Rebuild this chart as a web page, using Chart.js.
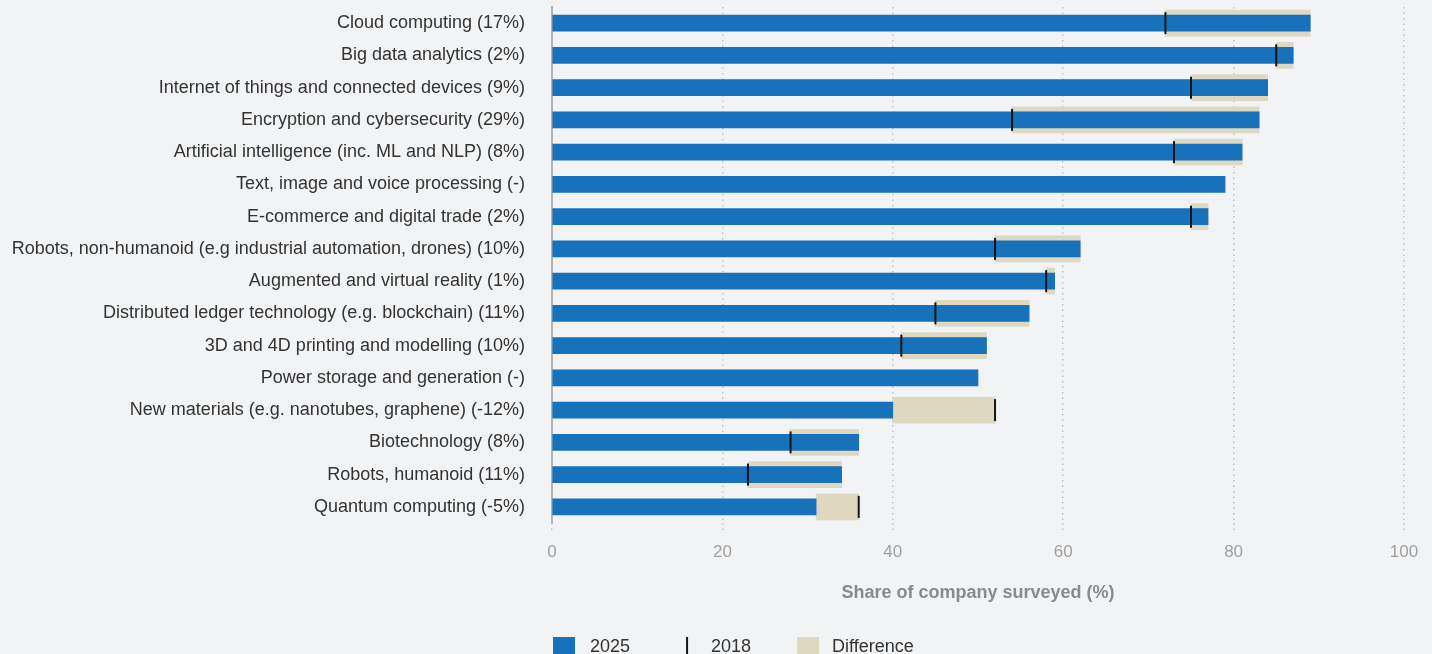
<!DOCTYPE html>
<html>
<head>
<meta charset="utf-8">
<title>Technology adoption by share of companies surveyed</title>
<script src="https://cdn.jsdelivr.net/npm/chart.js@4.4.1/dist/chart.umd.min.js"></script>
<style>
  html, body { margin: 0; padding: 0; background: #f2f3f5; overflow: hidden; }
  #wrap { width: 1432px; height: 666px; }
</style>
</head>
<body>
<div id="wrap"><canvas id="techChart" width="1432" height="666"></canvas></div>
<script>
// Technologies (change 2018 -> 2025 in brackets)
const categories = [
  'Cloud computing (17%)',
  'Big data analytics (2%)',
  'Internet of things and connected devices (9%)',
  'Encryption and cybersecurity (29%)',
  'Artificial intelligence (inc. ML and NLP) (8%)',
  'Text, image and voice processing (-)',
  'E-commerce and digital trade (2%)',
  'Robots, non-humanoid (e.g industrial automation, drones) (10%)',
  'Augmented and virtual reality (1%)',
  'Distributed ledger technology (e.g. blockchain) (11%)',
  '3D and 4D printing and modelling (10%)',
  'Power storage and generation (-)',
  'New materials (e.g. nanotubes, graphene) (-12%)',
  'Biotechnology (8%)',
  'Robots, humanoid (11%)',
  'Quantum computing (-5%)'
];

// Share of companies surveyed (%)
const share2025 = [89, 87, 84, 83, 81, 79, 77, 62, 59, 56, 51, 50, 40, 36, 34, 31];
const share2018 = [72, 85, 75, 54, 73, null, 75, 52, 58, 45, 41, null, 52, 28, 23, 36];

// Axis ticks
const xTicks = [0, 20, 40, 60, 80, 100];

const BLUE = '#1771bb';
const BEIGE = '#ded8c1';
const MARK = '#141414';

Chart.defaults.font.family = '"Liberation Sans", Arial, Helvetica, sans-serif';

// Difference band between the two years
const difference = share2025.map((v, i) => {
  const old = share2018[i];
  if (old === null) return null;
  return [Math.min(v, old), Math.max(v, old)];
});

/**
 * Small canvas used as a legend marker
 */
function legendMarker(draw) {
  const c = document.createElement('canvas');
  c.width = 40;
  c.height = 20;
  draw(c.getContext('2d'));
  return c;
}

const markers = {
  bar: legendMarker(ctx => { ctx.fillStyle = BLUE; ctx.fillRect(12, 0, 22, 20); }),
  tick: legendMarker(ctx => { ctx.fillStyle = MARK; ctx.fillRect(24, 0, 2, 20); }),
  diff: legendMarker(ctx => { ctx.fillStyle = BEIGE; ctx.fillRect(14, 0, 22, 20); })
};

// Start the legend row under the plot instead of at the canvas edge
const legendShift = {
  id: 'legendShift',
  afterLayout(chart) {
    if (chart.legend) chart.legend.left = 509;
  }
};

const ctx = document.getElementById('techChart').getContext('2d');
const techChart = new Chart(ctx, {
  type: 'bar',
  data: {
    labels: categories,
    datasets: [
      {
        label: '2025',
        data: share2025,
        backgroundColor: BLUE,
        barThickness: 16,
        grouped: false,
        order: 1
      },
      {
        type: 'line',
        label: '2018',
        indexAxis: 'y',
        data: share2018,
        showLine: false,
        borderColor: MARK,
        backgroundColor: MARK,
        pointStyle: 'line',
        pointRotation: 90,
        pointRadius: 11,
        pointHoverRadius: 11,
        pointBorderWidth: 2,
        pointBorderColor: MARK,
        order: 0
      },
      {
        label: 'Difference',
        data: difference,
        backgroundColor: BEIGE,
        barThickness: 26,
        grouped: false,
        order: 2
      }
    ]
  },
  plugins: [legendShift],
  options: {
    responsive: false,
    animation: false,
    indexAxis: 'y',
    layout: {
      autoPadding: false,
      padding: { left: 0, right: 28, top: 7, bottom: 0 }
    },
    plugins: {
      tooltip: { enabled: false },
      legend: {
        position: 'bottom',
        align: 'start',
        labels: {
          usePointStyle: true,
          pointStyleWidth: 40,
          boxHeight: 18,
          padding: 32,
          color: '#333',
          font: { size: 18 },
          generateLabels: function(chart) {
            const list = [markers.bar, markers.tick, markers.diff];
            return chart.data.datasets.map((ds, i) => ({
              text: ds.label,
              pointStyle: list[i],
              fillStyle: i === 1 ? MARK : ds.backgroundColor,
              strokeStyle: 'transparent',
              lineWidth: 0,
              hidden: !chart.isDatasetVisible(i),
              datasetIndex: i,
              fontColor: '#333'
            }));
          }
        }
      }
    },
    scales: {
      x: {
        type: 'linear',
        min: xTicks[0],
        max: xTicks[xTicks.length - 1],
        afterBuildTicks: scale => { scale.ticks = xTicks.map(v => ({ value: v })); },
        ticks: {
          padding: 11,
          color: '#a0a0a0',
          font: { size: 17 }
        },
        grid: {
          color: ctx => ctx.tick && ctx.tick.value === 0 ? 'transparent' : '#c2c2c2',
          lineWidth: 1.5,
          tickLength: 8,
          tickColor: '#c2c2c2',
          tickBorderDash: [1.5, 4]
        },
        border: { display: false, dash: [1.5, 4] },
        title: {
          display: true,
          text: 'Share of company surveyed (%)',
          color: '#8a8a8a',
          font: { size: 18, weight: 'bold' },
          padding: { top: 20, bottom: 2 }
        },
        afterFit: scale => { scale.height = 83; }
      },
      y: {
        type: 'category',
        grid: { display: false, drawTicks: false },
        border: { display: true, color: '#b4b4b4', width: 2 },
        ticks: {
          padding: 27,
          color: '#333',
          autoSkip: false,
          font: { size: 18 }
        },
        afterFit: scale => {
          scale.width = 552;
          scale.paddingTop = 0;
          scale.paddingBottom = 0;
        }
      }
    }
  }
});
</script>
</body>
</html>
